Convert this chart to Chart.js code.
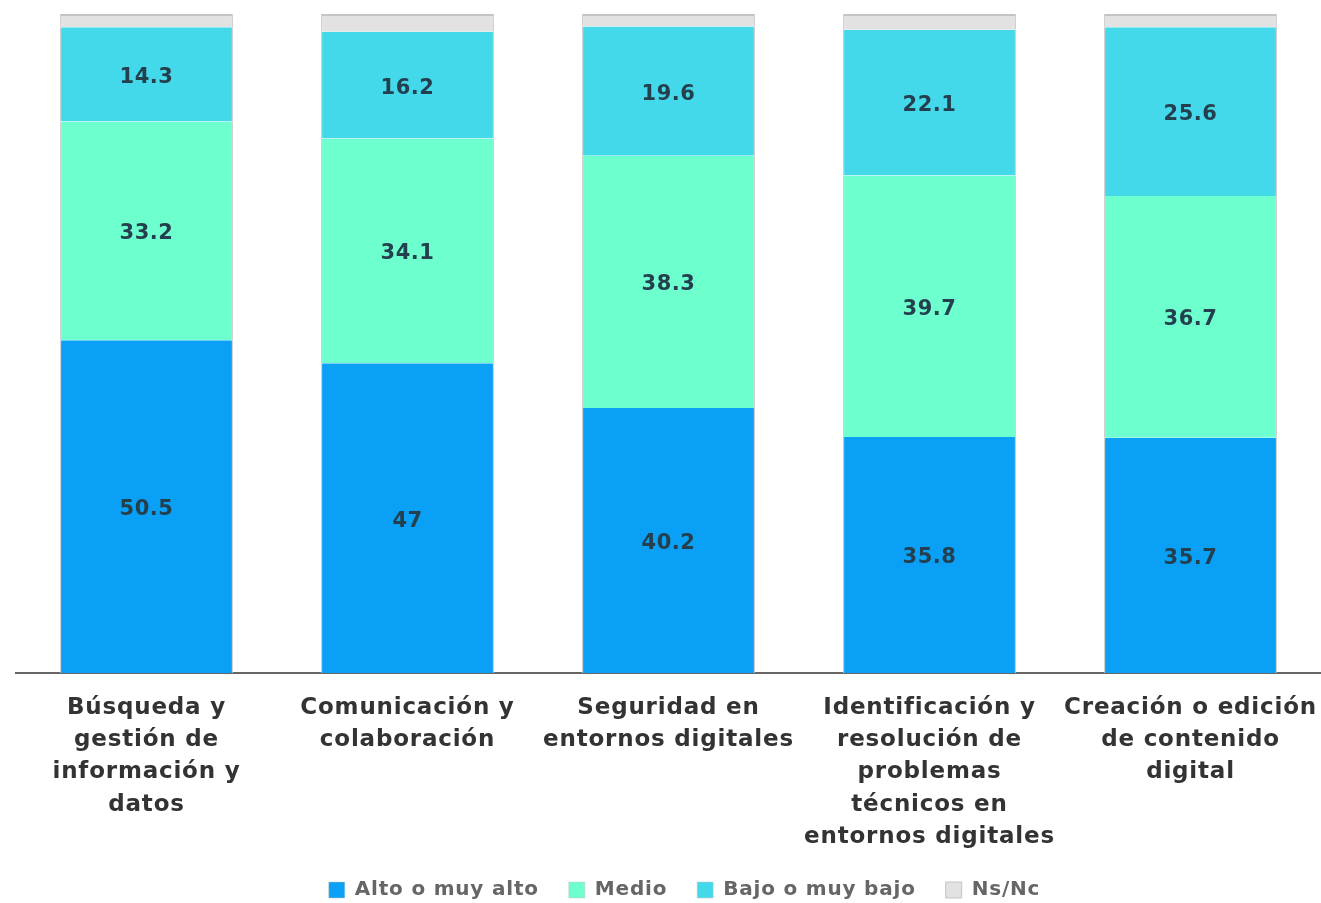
<!DOCTYPE html>
<html>
<head>
<meta charset="utf-8">
<script src="https://cdn.jsdelivr.net/npm/chart.js@4"></script>
<style>
html,body{margin:0;padding:0;background:#fff;}
#wrap{width:1321px;height:903px;position:relative;}
</style>
</head>
<body>
<div id="wrap"><canvas id="c"></canvas></div>
<script>
const categories = [
  ["Búsqueda y","gestión de","información y","datos"],
  ["Comunicación y","colaboración"],
  ["Seguridad en","entornos digitales"],
  ["Identificación y","resolución de","problemas","técnicos en","entornos digitales"],
  ["Creación o edición","de contenido","digital"]
];
const seriesNames = ["Alto o muy alto","Medio","Bajo o muy bajo","Ns/Nc"];
const altoValues = [50.5, 47, 40.2, 35.8, 35.7];
const medioValues = [33.2, 34.1, 38.3, 39.7, 36.7];
const bajoValues = [14.3, 16.2, 19.6, 22.1, 25.6];
const nsncValues = [2.0, 2.7, 1.9, 2.4, 2.0];
const colors = ["#0aa0f5","#6effcf","#44d9ea","#e2e2e2"];

const FONT = "'DejaVu Sans', sans-serif";
const SPACING = "0.8px";

const helperPlugin = {
  id: 'helper',
  beforeUpdate(chart) { chart.ctx.letterSpacing = SPACING; },
  beforeLayout(chart) {
    chart.ctx.letterSpacing = SPACING;
    const lg = chart.legend;
    if (lg && !lg._fixedFit) {
      const f = lg.fit.bind(lg);
      lg.fit = function () { f(); this.height = 53; };
      lg._fixedFit = true;
    }
  },
  afterLayout(chart) {
    const lg = chart.legend;
    if (lg) { lg.left += 16; lg.right += 16; }
  },
  beforeDraw(chart) { chart.ctx.letterSpacing = SPACING; }
};

const labelPlugin = {
  id: 'valueLabels',
  afterDatasetsDraw(chart) {
    const ctx = chart.ctx;
    ctx.save();
    ctx.letterSpacing = "0.5px";
    ctx.font = "bold 21px " + FONT;
    ctx.fillStyle = "#24404f";
    ctx.textAlign = "center";
    ctx.textBaseline = "middle";
    chart.data.datasets.forEach((ds, di) => {
      if (di === 3) return;
      const meta = chart.getDatasetMeta(di);
      meta.data.forEach((el, i) => {
        const p = el.getProps(['x','y','base'], true);
        ctx.fillText(String(ds.data[i]), p.x, (p.y + p.base) / 2 + 3);
      });
    });
    ctx.restore();
  }
};

const makeDs = (k, data) => ({
  label: seriesNames[k],
  data: data,
  backgroundColor: colors[k],
  borderColor: "#c4c4c4",
  borderWidth: k === 3 ? {top:2,left:1,right:1,bottom:0} : {top:0,bottom:0,left:1,right:1},
  borderSkipped: false,
  categoryPercentage: 1.0,
  barPercentage: 0.662
});

new Chart(document.getElementById('c'), {
  type: 'bar',
  data: {
    labels: categories,
    datasets: [
      makeDs(0, altoValues),
      makeDs(1, medioValues),
      makeDs(2, bajoValues),
      makeDs(3, nsncValues)
    ]
  },
  options: {
    responsive: true,
    maintainAspectRatio: false,
    animation: false,
    layout: { padding: { top: 14, left: 16, right: 0, bottom: 0 } },
    scales: {
      x: {
        stacked: true,
        grid: { display: false, drawTicks: false },
        border: { display: true, color: "#666", width: 2 },
        ticks: {
          color: "#333",
          font: { family: FONT, size: 23, weight: 'bold', lineHeight: 1.40 },
          maxRotation: 0,
          autoSkip: false,
          padding: 19
        },
        afterFit(scale) {
          scale.height = 177;
          scale.paddingLeft = 0;
          scale.paddingRight = 0;
        }
      },
      y: {
        stacked: true,
        display: false,
        min: 0,
        max: 100
      }
    },
    plugins: {
      legend: {
        position: 'bottom',
        labels: {
          color: "#666",
          font: { family: FONT, size: 20, weight: 'bold' },
          boxWidth: 16,
          boxHeight: 16,
          padding: 30
        }
      },
      tooltip: { enabled: false }
    }
  },
  plugins: [helperPlugin, labelPlugin]
});
</script>
</body>
</html>
